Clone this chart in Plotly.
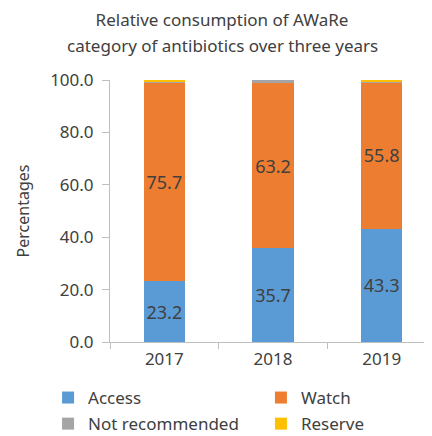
import plotly.graph_objects as go

years = ["2017", "2018", "2019"]
access = [23.2, 35.7, 43.3]
watch = [75.7, 63.2, 55.8]
not_recommended = [0.5, 1.1, 0.5]
reserve = [0.6, 0.0, 0.4]

FONT = "Noto Sans"
TXT = "#404040"

fig = go.Figure()

series = [
    ("Access", access, "#5B9BD5", True, "legend"),
    ("Watch", watch, "#ED7D31", True, "legend2"),
    ("Not recommended", not_recommended, "#A5A5A5", False, "legend"),
    ("Reserve", reserve, "#FFC000", False, "legend2"),
]

for name, vals, color, labels, leg in series:
    fig.add_trace(go.Bar(
        x=years, y=vals, name=name,
        marker=dict(color=color, line=dict(width=0)),
        text=[f"{v:.1f}" for v in vals] if labels else None,
        textposition="inside" if labels else "none",
        insidetextanchor="middle", constraintext="none", textangle=0,
        textfont=dict(color=TXT, size=18, family=FONT),
        legend=leg, legendgroup=name,
        hoverinfo="x+y+name",
    ))

# title split in two lines to get the wider line spacing of the original
fig.add_annotation(
    text="category of antibiotics over three years",
    xref="paper", yref="paper", x=0.3436, y=1.13,
    xanchor="center", yanchor="middle", showarrow=False,
    font=dict(size=17, color=TXT, family=FONT),
)

fig.update_layout(
    width=432, height=436,
    barmode="stack", bargap=0.618,
    paper_bgcolor="white", plot_bgcolor="white",
    font=dict(family=FONT, color=TXT, size=17),
    margin=dict(l=102, r=4, t=72, b=102, autoexpand=False),
    title=dict(
        text="Relative consumption of AWaRe",
        xref="paper", x=0.3436, xanchor="center",
        yref="container", y=0.9725, yanchor="middle",
        font=dict(size=17, color=TXT, family=FONT),
    ),
    xaxis=dict(
        showline=True, linecolor="#BFBFBF", linewidth=1,
        ticks="outside", tickson="boundaries", ticklen=6, tickcolor="#BFBFBF",
        tickfont=dict(size=17, color=TXT), ticklabelstandoff=2,
        showgrid=False, automargin=False,
    ),
    yaxis=dict(
        range=[0, 100], dtick=20, tickformat=".1f",
        showline=True, linecolor="#BFBFBF", linewidth=1,
        ticks="outside", ticklen=7, tickcolor="#BFBFBF",
        tickfont=dict(size=17, color=TXT), ticklabelstandoff=5,
        showgrid=False, zeroline=False, automargin=False,
        title=dict(text="Percentages", font=dict(size=16, color=TXT), standoff=16),
    ),
    legend=dict(
        x=-0.19, xanchor="left", y=-0.145, yanchor="top",
        orientation="v", tracegroupgap=1, traceorder="grouped",
        font=dict(size=17, color=TXT), itemwidth=30,
    ),
    legend2=dict(
        x=0.463, xanchor="left", y=-0.145, yanchor="top",
        orientation="v", tracegroupgap=1, traceorder="grouped",
        font=dict(size=17, color=TXT), itemwidth=30,
    ),
    showlegend=True,
)

fig.write_html("out.html")
